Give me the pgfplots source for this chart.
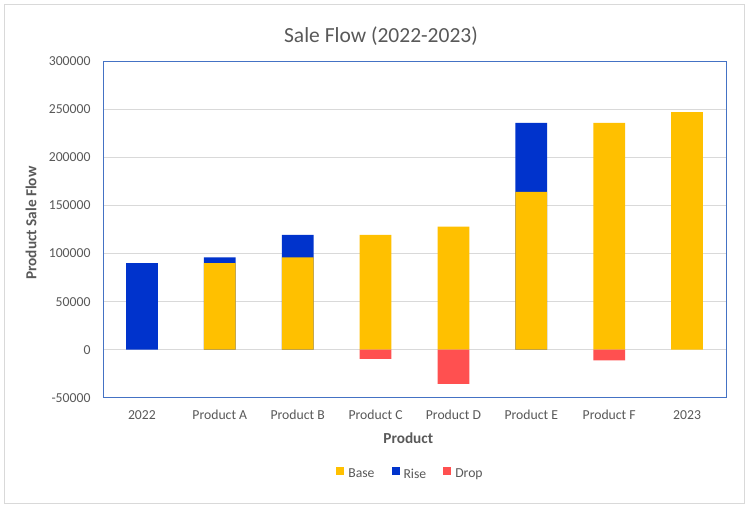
\documentclass[border=0pt]{standalone}
\usepackage{fontspec}
\setmainfont{Carlito}
\usepackage{pgfplots}
\pgfplotsset{compat=1.18}

\definecolor{baseY}{HTML}{FFC000}
\definecolor{riseB}{HTML}{0033CC}
\definecolor{dropR}{HTML}{FF5050}
\definecolor{txt}{HTML}{595959}
\definecolor{gridc}{HTML}{D9D9D9}
\definecolor{framec}{HTML}{4472C4}

\begin{document}
\begin{tikzpicture}[x=1pt,y=1pt]
\useasboundingbox (0,0) rectangle (750,509);
\fill[white] (0,0) rectangle (750,509);
\draw[gridc, line width=1pt] (4.5,5.5) rectangle (744.5,504.5);
\node[anchor=base, text=txt, font=\fontsize{21.5}{26}\selectfont] at (381,466.3) {Sale Flow (2022-2023)};

\begin{axis}[
    at={(103pt,111.2pt)}, anchor=south west,
    scale only axis,
    width=623pt, height=336.6pt,
    xmin=-0.5, xmax=7.5,
    ymin=-50000, ymax=300000,
    xtick={0,...,7},
    xticklabels={2022,Product A,Product B,Product C,Product D,Product E,Product F,2023},
    ytick={-50000,0,...,300000},
    scaled y ticks=false,
    /pgf/number format/.cd, fixed, 1000 sep={}, assume math mode=true,
    /pgfplots/.cd,
    tick style={draw=none},
    ymajorgrids,
    grid style={gridc, line width=0.8pt},
    axis line style={framec, line width=0.8pt},
    ticklabel style={text=txt, font=\fontsize{13.7}{16}\selectfont},
    xticklabel style={anchor=center, yshift=-17pt},
    yticklabel style={anchor=east, xshift=-9pt},
    xlabel={Product},
    ylabel={Product Sale Flow},
    every axis x label/.style={at={(axis description cs:0.49,-0.119)}, anchor=center,
        text=txt, font=\bfseries\fontsize{15.3}{18}\selectfont},
    every axis y label/.style={at={(axis description cs:-0.1156,0.519)}, anchor=center, rotate=90,
        text=txt, font=\bfseries\fontsize{15.3}{18}\selectfont},
    legend image code/.code={\fill[#1, draw=none] (0pt,-0.5pt) rectangle (8pt,7.5pt);},
    legend style={at={(0.4936,-0.2265)}, anchor=center, draw=none, fill=none,
        legend columns=3, text=txt, font=\fontsize{13.7}{16}\selectfont,
        inner sep=0pt,
        /tikz/every odd column/.append style={column sep=2pt},
        /tikz/every even column/.append style={column sep=15pt}},
]

% top of the rising segment (drawn first, base covers its lower part)
\addplot[ybar, bar width=31.7pt, bar shift=0pt, fill=riseB, draw=none, forget plot] coordinates {
    (0, 90000)
    (1, 96000)
    (2, 119500)
    (5, 236000)
};

% base
\addplot[ybar, bar width=31.7pt, bar shift=0pt, fill=baseY, draw=none, forget plot] coordinates {
    (1, 90000)
    (2, 96000)
    (3, 119500)
    (4, 128000)
    (5, 164000)
    (6, 236000)
    (7, 247000)
};

% drop
\addplot[ybar, bar width=31.7pt, bar shift=0pt, fill=dropR, draw=none, forget plot] coordinates {
    (3, -9500)
    (4, -35500)
    (6, -11000)
};

\addlegendimage{fill=baseY}
\addlegendentry{Base}
\addlegendimage{fill=riseB}
\addlegendentry{Rise}
\addlegendimage{fill=dropR}
\addlegendentry{Drop}
\end{axis}
\end{tikzpicture}
\end{document}
